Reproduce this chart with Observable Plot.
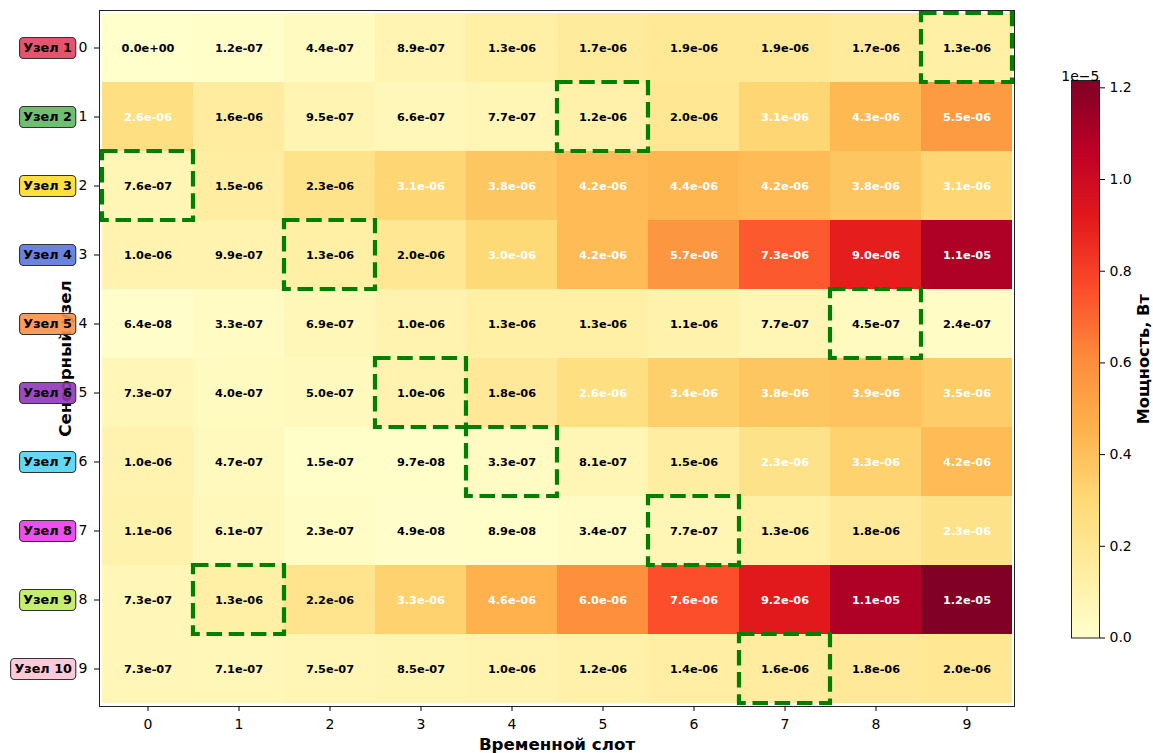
<!DOCTYPE html>
<html>
<head>
<meta charset="utf-8">
<script src="https://cdn.jsdelivr.net/npm/d3@7"></script>
<script src="https://cdn.jsdelivr.net/npm/@observablehq/plot@0.6"></script>
<style>
  body { margin: 0; background: #fff; font-family: "DejaVu Sans", sans-serif; }
  #chart { position: relative; width: 1153px; height: 753px; overflow: hidden; background: #fff; }
  #chart svg { position: absolute; top: 0; }
</style>
</head>
<body>
<div id="chart"></div>
<script>
// Time slots (columns) and sensor nodes (rows)
const slots = [0, 1, 2, 3, 4, 5, 6, 7, 8, 9];
const nodes = [0, 1, 2, 3, 4, 5, 6, 7, 8, 9];
const nodeNames = ["Узел 1", "Узел 2", "Узел 3", "Узел 4", "Узел 5",
                   "Узел 6", "Узел 7", "Узел 8", "Узел 9", "Узел 10"];
const nodeColors = ["#e3405f", "#5fb862", "#ffdc2a", "#5b78dc", "#f79149",
                    "#9036b8", "#52d4f3", "#ea3cea", "#bfec5c", "#ffc3d4"];

// Received power per node (row) and time slot (column), W
const power = [
  [0.0,     1.2e-7, 4.4e-7, 8.9e-7, 1.3e-6, 1.7e-6, 1.9e-6, 1.9e-6,  1.7e-6,  1.3e-6],
  [2.6e-6,  1.6e-6, 9.5e-7, 6.6e-7, 7.7e-7, 1.2e-6, 2.0e-6, 3.1e-6,  4.3e-6,  5.5e-6],
  [7.6e-7,  1.5e-6, 2.27e-6, 3.1e-6, 3.8e-6, 4.2e-6, 4.4e-6, 4.2e-6, 3.8e-6,  3.1e-6],
  [1.0e-6,  9.9e-7, 1.3e-6, 2.0e-6, 3.0e-6, 4.2e-6, 5.7e-6, 7.3e-6,  9.0e-6,  1.1e-5],
  [6.4e-8,  3.3e-7, 6.9e-7, 1.0e-6, 1.3e-6, 1.3e-6, 1.1e-6, 7.7e-7,  4.5e-7,  2.4e-7],
  [7.3e-7,  4.0e-7, 5.0e-7, 1.0e-6, 1.8e-6, 2.6e-6, 3.4e-6, 3.8e-6,  3.9e-6,  3.5e-6],
  [1.0e-6,  4.7e-7, 1.5e-7, 9.7e-8, 3.3e-7, 8.1e-7, 1.5e-6, 2.33e-6, 3.3e-6,  4.2e-6],
  [1.1e-6,  6.1e-7, 2.3e-7, 4.9e-8, 8.9e-8, 3.4e-7, 7.7e-7, 1.3e-6,  1.8e-6,  2.33e-6],
  [7.3e-7,  1.3e-6, 2.2e-6, 3.3e-6, 4.6e-6, 6.0e-6, 7.6e-6, 9.2e-6,  1.1e-5,  1.216e-5],
  [7.3e-7,  7.1e-7, 7.5e-7, 8.5e-7, 1.0e-6, 1.2e-6, 1.4e-6, 1.6e-6,  1.8e-6,  2.0e-6]
];

// Slot assigned to each node (highlighted with a dashed frame)
const assignedSlot = [9, 5, 0, 2, 8, 3, 4, 6, 1, 7];

// Colour bar ticks (×1e-5 W)
const colorbarTicks = [0, 0.2e-5, 0.4e-5, 0.6e-5, 0.8e-5, 1.0e-5, 1.2e-5];

// Labels on cells above this value are drawn in white
const whiteTextAbove = 2.3e-6;

// YlOrRd ramp
const ylOrRd = ["#ffffcc", "#ffeda0", "#fed976", "#feb24c", "#fd8d3c",
                "#fc4e2a", "#e31a1c", "#bd0026", "#800026"];

const vmax = d3.max(power.flat());
const colorScale = {
  type: "linear",
  domain: ylOrRd.map((_, i) => vmax * i / (ylOrRd.length - 1)),
  range: ylOrRd,
  interpolate: "rgb"
};

const cells = nodes.flatMap(n => slots.map(s => ({node: n, slot: s, value: power[n][s]})));
const picks = nodes.map(n => ({node: n, slot: assignedSlot[n]}));

// Scientific notation with a two-digit exponent: 1.2e-07
const fmt = v => v.toExponential(1).replace(/e([+-])(\d)$/, (_, s, d) => `e${s}0${d}`);

const font = "DejaVu Sans, sans-serif";
const cellFontSize = 11.3;
const labelSize = 12.8;
const measure = document.createElement("canvas").getContext("2d");
measure.font = `bold ${labelSize}px "DejaVu Sans"`;

// Node names in rounded coloured boxes, left of the tick numbers
const nodeLabels = Plot.text(nodes, {
  y: d => d,
  frameAnchor: "left",
  textAnchor: "end",
  dx: -27.5,
  text: d => nodeNames[d],
  fontSize: labelSize,
  fontWeight: "bold",
  fill: "black",
  render(index, scales, values, dimensions, context, next) {
    const g = next(index, scales, values, dimensions, context);
    const pad = 3.75, h = 21;
    d3.select(g).selectAll("text").each(function(_, k) {
      const i = index[k];
      const w = measure.measureText(nodeNames[i]).width;
      const rect = document.createElementNS("http://www.w3.org/2000/svg", "rect");
      rect.setAttribute("transform", this.getAttribute("transform") || "");
      if (this.getAttribute("x")) rect.setAttribute("transform", `translate(${this.getAttribute("x")},${this.getAttribute("y")})`);
      rect.setAttribute("x", -w - pad);
      rect.setAttribute("y", -h / 2);
      rect.setAttribute("width", w + 2 * pad);
      rect.setAttribute("height", h);
      rect.setAttribute("rx", 4);
      rect.setAttribute("fill", nodeColors[i]);
      rect.setAttribute("fill-opacity", 0.9);
      rect.setAttribute("stroke", "#333");
      rect.setAttribute("stroke-width", 1.1);
      this.parentNode.insertBefore(rect, this);
    });
    return g;
  }
});

const main = Plot.plot({
  width: 1153,
  height: 753,
  marginLeft: 99,
  marginRight: 139,
  marginTop: 10,
  marginBottom: 47,
  style: {fontFamily: font, background: "white", color: "black"},
  x: {type: "band", domain: slots, padding: 0, axis: null},
  y: {type: "band", domain: nodes, padding: 0, axis: null},
  color: colorScale,
  marks: [
    Plot.cell(cells, {x: "slot", y: "node", fill: "value", inset: 0}),
    Plot.text(cells.filter(d => d.value <= whiteTextAbove), {
      x: "slot", y: "node", text: d => fmt(d.value), fill: "black", fontWeight: "bold", fontSize: cellFontSize
    }),
    Plot.text(cells.filter(d => d.value > whiteTextAbove), {
      x: "slot", y: "node", text: d => fmt(d.value), fill: "white", fontWeight: "bold", fontSize: cellFontSize
    }),
    Plot.cell(picks, {
      x: "slot", y: "node", fill: "none", stroke: "#008000", strokeWidth: 4.2,
      strokeDasharray: "15.5,6.7", clip: true
    }),
    Plot.frame({stroke: "#222", strokeWidth: 1}),
    Plot.axisX({ticks: slots, tickSize: 5, tickPadding: 8, fontSize: 14, label: null}),
    Plot.axisY({ticks: nodes, tickSize: 5, tickPadding: 7, fontSize: 14, label: null}),
    Plot.text(["Временной слот"], {frameAnchor: "bottom", dy: 43, fontSize: 16.7, fontWeight: "bold"}),
    Plot.text(["Сенсорный узел"], {frameAnchor: "left", textAnchor: "middle", dx: -34, rotate: -90,
                                    fontSize: 16.7, fontWeight: "bold"}),
    nodeLabels
  ]
});

// Vertical colour bar
const colorbar = Plot.plot({
  width: 93,
  height: 753,
  marginLeft: 11,
  marginRight: 54,
  marginTop: 80,
  marginBottom: 115.5,
  style: {fontFamily: font, background: "transparent", color: "black", overflow: "visible"},
  x: {domain: [0, 1], axis: null},
  y: {domain: [0, vmax], axis: null},
  color: colorScale,
  marks: [
    Plot.raster({fill: (x, y) => y, x1: 0, x2: 1, y1: 0, y2: vmax, width: 1, height: 400}),
    Plot.frame({stroke: "#222", strokeWidth: 1}),
    Plot.axisY({anchor: "right", ticks: colorbarTicks, tickSize: 5, tickPadding: 5, fontSize: 14,
                tickFormat: d => (d / 1e-5).toFixed(1), label: null}),
    Plot.text(["1e\u22125"], {frameAnchor: "top-right", textAnchor: "end", dy: -9, fontSize: 14}),
    Plot.text(["Мощность, Вт"], {frameAnchor: "right", textAnchor: "middle", dx: 44.5, rotate: -90,
                                  fontSize: 16.2, fontWeight: "bold"})
  ]
});

const chart = document.getElementById("chart");
main.style.left = "0px";
colorbar.style.left = "1060px";
chart.append(main, colorbar);
</script>
</body>
</html>
